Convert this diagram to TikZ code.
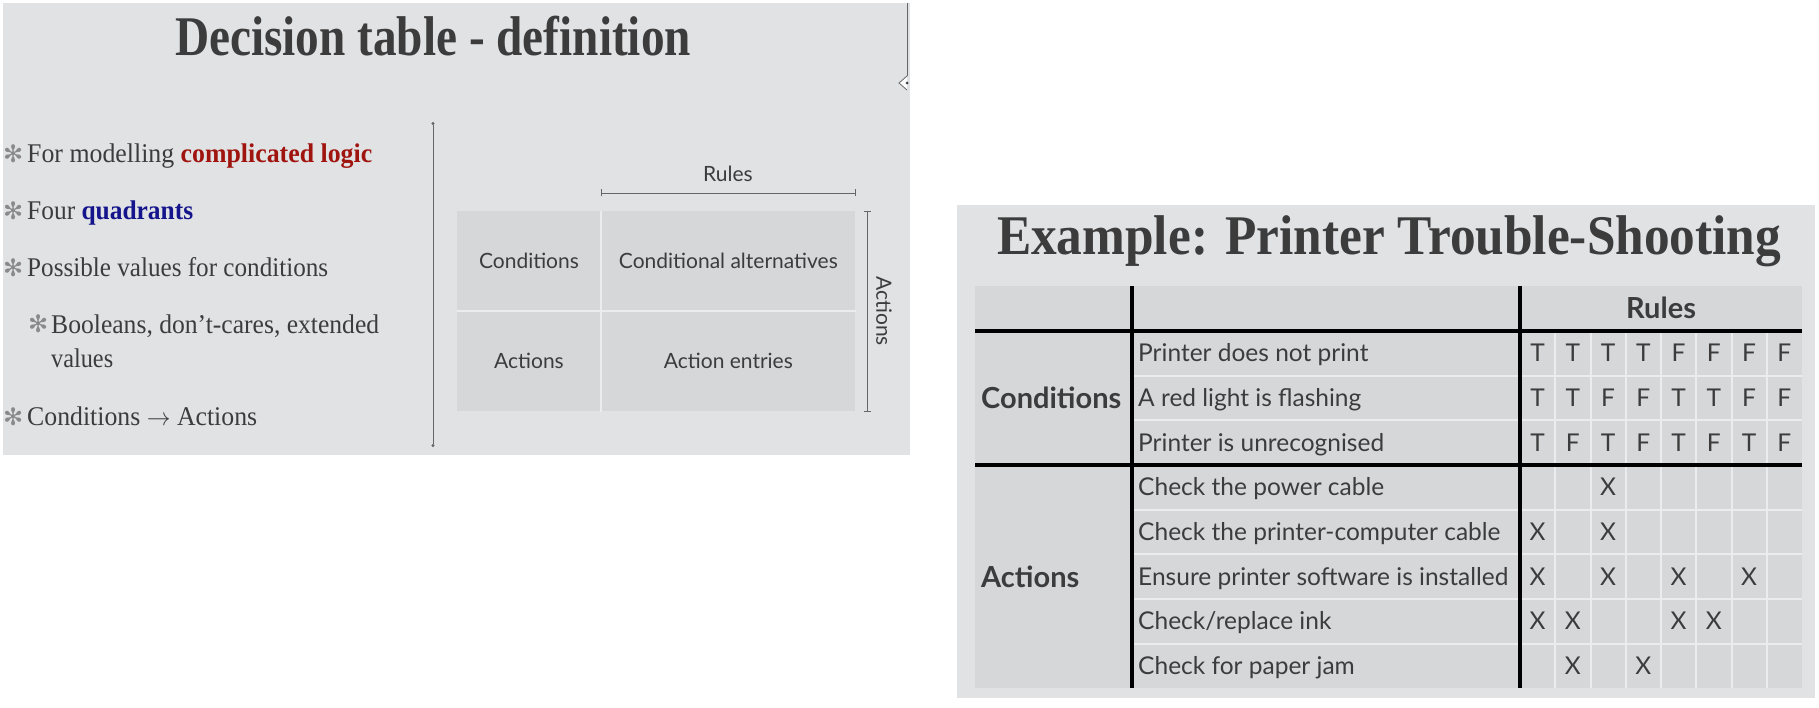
\documentclass[tikz,border=0pt]{standalone}
\usepackage{fontspec}
\usepackage{graphicx}
\setmainfont{Liberation Serif}
\newfontfamily\gill{Lato}
\newfontfamily\symb{DejaVu Sans}
\usetikzlibrary{positioning,arrows.meta}
\definecolor{slidegray}{HTML}{E1E2E4}
\definecolor{cellgray}{HTML}{D6D7D9}
\definecolor{sepgray}{HTML}{EBECEE}
\definecolor{ink}{HTML}{3C3C3C}
\definecolor{hotred}{HTML}{A0140F}
\definecolor{coolblue}{HTML}{14148C}
\definecolor{stargray}{HTML}{8A8A8A}
\newcommand{\squeeze}[2]{\resizebox{#1pt}{\height}{#2}}
\newcommand{\hot}[1]{\textbf{\color{hotred}#1}}
\newcommand{\cool}[1]{\textbf{\color{coolblue}#1}}
\tikzset{
	every node/.style={
		inner sep=0pt,
		text=ink
	},
	slide/.style={
		fill=slidegray
	},
	title/.style={
		anchor=base,
		font=\fontsize{56}{60}\selectfont\bfseries
	},
	star/.style={
		anchor=base west,
		font=\symb\fontsize{24}{28}\selectfont,
		text=stargray
	},
	bullet/.style={
		anchor=base west,
		font=\fontsize{27}{32}\selectfont
	},
	quad/.style={
		fill=cellgray,
		minimum height=100pt,
		text height=15pt,
		text depth=0pt,
		font=\gill\fontsize{21}{25}\selectfont
	},
	lab/.style={
		font=\gill\fontsize{21}{25}\selectfont
	},
	sep/.style={
		draw=sepgray,
		line width=2pt
	},
	thin rule/.style={
		draw=gray!80!black,
		line width=0.8pt
	},
	bracket/.style={
		thin rule,
		{Bar[width=7pt]}-{Bar[width=7pt]}
	},
	thick rule/.style={
		draw=black,
		line width=3.5pt
	},
	entry/.style={
		anchor=west,
		text height=17pt,
		text depth=0pt,
		font=\gill\fontsize{24.5}{28}\selectfont
	},
	cellmark/.style={
		text height=17pt,
		text depth=0pt,
		font=\gill\fontsize{24.5}{28}\selectfont
	},
	head/.style={
		text height=20pt,
		text depth=0pt,
		font=\gill\fontsize{29}{33}\selectfont\bfseries
	}
}

\begin{document}
\begin{tikzpicture}[x=1pt,y=-1pt]
	\useasboundingbox (0,0) rectangle (1819,708);

	% left slide
	\fill[slide] (3,3) rectangle (910,455);
	\coordinate (htop) at (907,3);
	\coordinate (hmid) at (907,83);
	\draw[thin rule] (htop) -- (907,76);
	\draw[thin rule, fill=white] (907,76) -- (899,83) -- (907,90);
	\fill[ink] (hmid) circle (1.5);

	\node[title] (dtitle) at (433,56) {\squeeze{516}{Decision table - definition}};

	\node[star] (s1) at (3,163) {✻};
	\node[bullet] (b1) at (27,163) {\squeeze{345}{For modelling \hot{complicated logic}}};
	\node[star] (s2) at (3,220) {✻};
	\node[bullet] (b2) at (27,220) {\squeeze{166}{Four \cool{quadrants}}};
	\node[star] (s3) at (3,277) {✻};
	\node[bullet] (b3) at (27,277) {\squeeze{301}{Possible values for conditions}};
	\node[star] (s4) at (28,333) {✻};
	\node[bullet] (b4) at (51,333) {\squeeze{328}{Booleans, don’t-cares, extended}};
	\node[bullet] (b4b) at (51,367) {\squeeze{62}{values}};
	\node[star] (s5) at (3,425) {✻};
	\node[bullet] (b5) at (27,425) {\squeeze{230}{Conditions $\rightarrow$ Actions}};

	\coordinate (vtop) at (433,122);
	\coordinate (vbot) at (433,447);
	\draw[thin rule, {Circle[length=3pt]}-{Circle[length=3pt]}] (vtop) -- (vbot);

	% quadrants
	\node[quad, minimum width=144pt] (qc) at (529,261) {Conditions};
	\node[quad, minimum width=254pt, right=0pt of qc] (qca) {Conditional alternatives};
	\node[quad, minimum width=144pt, below=0pt of qc] (qa) {Actions};
	\node[quad, minimum width=254pt, right=0pt of qa] (qae) {Action entries};
	\draw[sep] (qc.north east) -- (qa.south east);
	\draw[sep] (qc.south west) -- (qca.south east);

	\coordinate (rl) at (601,193);
	\coordinate (rr) at (856,193);
	\draw[bracket] (rl) -- (rr);
	\node[lab] (rules) at (728,174) {Rules};
	\coordinate (at) at (867,211);
	\coordinate (ab) at (867,412);
	\draw[bracket] (at) -- (ab);
	\node[lab, rotate=-90] (acts) at (884,311) {Actions};

	% right slide
	\fill[slide] (957,205) rectangle (1815,698);
	\node[title] (ptitle) at (1389,255) {\squeeze{784}{Example: Printer Trouble-Shooting}};

	\coordinate (tnw) at (975,286);
	\coordinate (tse) at (1802,688);
	\fill[cellgray] (tnw) rectangle (tse);
	\foreach \y in {376,420,510,554,599,644}
		\draw[sep] (1132,\y) -- (1802,\y);
	\foreach \k in {1,...,7}
		\draw[sep] ({1520+35.25*\k},331) -- ({1520+35.25*\k},688);

	\coordinate (cw) at (975,331);
	\coordinate (ce) at (1802,331);
	\coordinate (aw) at (975,465);
	\coordinate (ae) at (1802,465);
	\coordinate (dtop) at (1132,286);
	\coordinate (dbot) at (1132,688);
	\coordinate (rtop) at (1520,286);
	\coordinate (rbot) at (1520,688);
	\draw[thick rule] (cw) -- (ce);
	\draw[thick rule] (aw) -- (ae);
	\draw[thick rule] (dtop) -- (dbot);
	\draw[thick rule] (rtop) -- (rbot);

	\node[head] (rhead) at (1661,309) {Rules};
	\node[head, anchor=west] (chead) at (981,398) {Conditions};
	\node[head, anchor=west] (ahead) at (981,577) {Actions};

	\foreach \lab [count=\i] in {Printer does not print, A red light is flashing, Printer is unrecognised}
		\node[entry] (c\i) at (1138,{331+44.6*(\i-0.5)}) {\lab};
	\foreach \lab [count=\i] in {Check the power cable, Check the printer-computer cable, Ensure printer software is installed, Check/replace ink, Check for paper jam}
		\node[entry] (a\i) at (1138,{465+44.6*(\i-0.5)}) {\lab};

	% truth values
	\foreach \vals [count=\i] in {{T,T,T,T,F,F,F,F},{T,T,F,F,T,T,F,F},{T,F,T,F,T,F,T,F}}
		\foreach \v [count=\j] in \vals
			\node[cellmark] (v\i\j) at ({1520+35.25*(\j-0.5)},{331+44.6*(\i-0.5)}) {\v};
	% action entries
	\foreach \cols [count=\i] in {{3},{1,3},{1,3,5,7},{1,2,5,6},{2,4}}
		\foreach \j in \cols
			\node[cellmark] (x\i\j) at ({1520+35.25*(\j-0.5)},{465+44.6*(\i-0.5)}) {X};
\end{tikzpicture}
\end{document}
